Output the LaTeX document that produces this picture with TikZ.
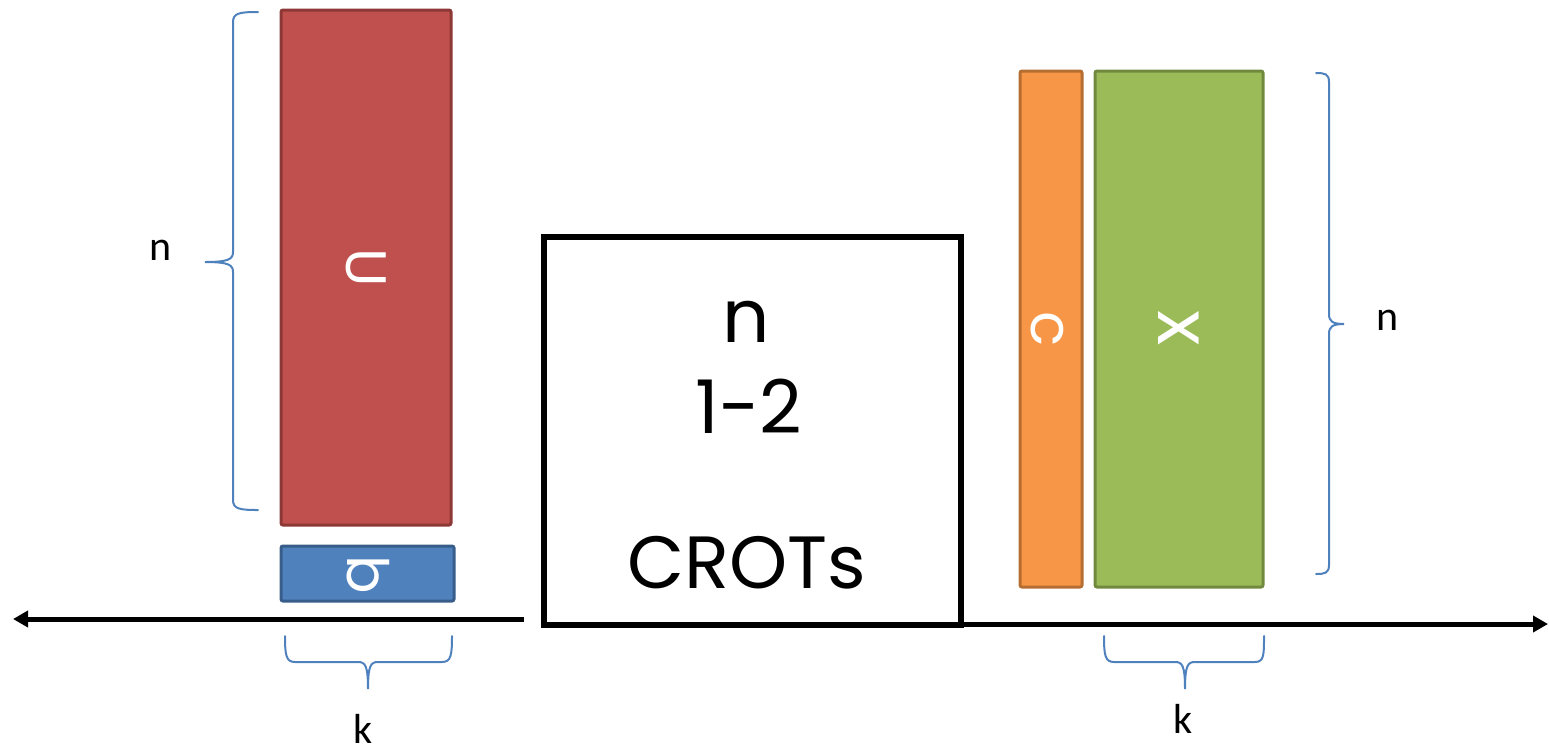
\documentclass[tikz,border=0pt]{standalone}
\usepackage{fontspec}
\setmainfont{Carlito}
\newfontfamily\geo{Poppins}
\usetikzlibrary{arrows.meta}
\definecolor{redfill}{HTML}{C0504D}
\definecolor{redline}{HTML}{8C3836}
\definecolor{bluefill}{HTML}{4F81BD}
\definecolor{blueline}{HTML}{385D8A}
\definecolor{orangefill}{HTML}{F79646}
\definecolor{orangeline}{HTML}{B66D31}
\definecolor{greenfill}{HTML}{9BBB59}
\definecolor{greenline}{HTML}{71893F}
\definecolor{bracecol}{HTML}{4F81BD}
\tikzset{
  vecbox/.style={rectangle, rounded corners=2pt, line width=3pt, inner sep=0pt},
  veclabel/.style={text=white, rotate=-90, inner sep=0pt},
  crotbox/.style={rectangle, draw=black, line width=5.5pt, inner sep=0pt},
  crottext/.style={anchor=base, inner sep=0pt, font=\geo\fontsize{74}{74}\selectfont},
  dimlabel/.style={anchor=base, inner sep=0pt, font=\fontsize{42}{42}\selectfont},
  brace/.style={draw=bracecol, line width=2pt, line cap=round},
  axis/.style={draw=black, line width=5pt, -{Triangle[length=15pt,width=16pt]}}
}
\begin{document}
\begin{tikzpicture}[x=1pt,y=-1pt]
\useasboundingbox (0,0) rectangle (1549,748);

% left side: U and b
\node[vecbox, fill=redfill, draw=redline, minimum width=170pt, minimum height=515pt] (U) at (366,267.5) {};
\node[veclabel, font=\geo\fontsize{57}{57}\selectfont] (Ulab) at (U.center) {U};
\node[vecbox, fill=bluefill, draw=blueline, minimum width=173pt, minimum height=55pt] (b) at (367.5,573.5) {};
\node[veclabel, font=\geo\fontsize{57}{57}\selectfont] (blab) at (368,575) {b};

% right side: c and x
\node[vecbox, fill=orangefill, draw=orangeline, minimum width=62pt, minimum height=516pt] (c) at (1051,329) {};
\node[veclabel, font=\geo\fontsize{58}{58}\selectfont] (clab) at (1047,329) {c};
\node[vecbox, fill=greenfill, draw=greenline, minimum width=168pt, minimum height=516pt] (x) at (1179,329) {};
\node[veclabel, font=\geo\fontsize{74}{74}\selectfont] (xlab) at (1179,328) {x};

% CROT functionality
\node[crotbox, minimum width=417pt, minimum height=388pt] (crot) at (752.5,431) {};
\node[crottext] (cn) at (746,342) {n};
\node[crottext] (c12) at (749,433) {1-2};
\node[crottext] (cname) at (747,588) {CROTs};

% directions
\coordinate (lstart) at (524,619);
\coordinate (lend) at (13,619);
\coordinate (rstart) at (crot.south east |- 0,624);
\coordinate (rend) at (1548,624);
\draw[axis] (lstart) -- (lend);
\draw[axis] (rstart) -- (rend);

% dimension braces
\draw[brace] (258,12) .. controls (240,12) and (233,13) .. (233,22) -- (233,252)
  .. controls (233,259) and (229,262) .. (205,262)
  .. controls (229,262) and (233,265) .. (233,272) -- (233,500)
  .. controls (233,509) and (240,510) .. (258,510);
\node[dimlabel] (nleft) at (161,260) {n};

\draw[brace] (1316,73) .. controls (1325,73) and (1329,74) .. (1329,82) -- (1329,314)
  .. controls (1329,321) and (1332,324) .. (1344,324)
  .. controls (1332,324) and (1329,327) .. (1329,334) -- (1329,565)
  .. controls (1329,573) and (1325,574) .. (1316,574);
\node[dimlabel] (nright) at (1388,330) {n};

\draw[brace] (285,636) .. controls (285,655) and (286,662) .. (295,662) -- (358,662)
  .. controls (365,662) and (368,665) .. (368,689)
  .. controls (368,665) and (371,662) .. (378,662) -- (442,662)
  .. controls (451,662) and (452,655) .. (452,636);
\node[dimlabel] (kleft) at (363,743) {k};

\draw[brace] (1104,636) .. controls (1104,655) and (1105,662) .. (1114,662) -- (1175,662)
  .. controls (1182,662) and (1185,665) .. (1185,689)
  .. controls (1185,665) and (1188,662) .. (1195,662) -- (1255,662)
  .. controls (1264,662) and (1264,655) .. (1264,636);
\node[dimlabel] (kright) at (1183,733) {k};
\end{tikzpicture}
\end{document}
